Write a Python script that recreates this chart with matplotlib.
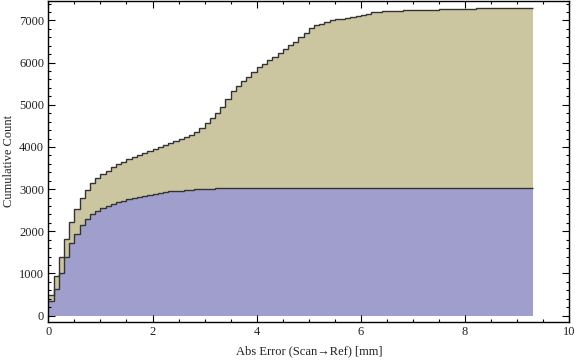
import numpy as np
import matplotlib
matplotlib.use('Agg')
import matplotlib.pyplot as plt
from matplotlib.ticker import MultipleLocator

# Histograma acumulado apilado, bins de 0.1 mm entre 0 y 9.3
bordes = np.round(np.arange(0, 9.31, 0.1), 2)

# Conteo acumulado de la serie azul (inferior)
azul = [340, 630, 1000, 1382, 1713, 1930, 2140, 2281, 2405, 2486,
        2542, 2597, 2644, 2684, 2720, 2755, 2786, 2817, 2840, 2864,
        2888, 2911, 2928, 2951, 2967, 2967, 2991, 2991, 3015, 3015,
        3015, 3015] + [3039] * 61

# Conteo acumulado total (serie beige apilada encima)
total = [500, 935, 1382, 1828, 2210, 2518, 2782, 2970, 3140, 3265,
         3354, 3432, 3520, 3585, 3640, 3705, 3760, 3811, 3862, 3902,
         3950, 4005, 4045, 4085, 4130, 4180, 4235, 4294, 4355, 4451,
         4569, 4680, 4805, 4956, 5146, 5319, 5453, 5572, 5667, 5776,
         5887, 5974, 6060, 6131, 6234, 6329, 6424, 6495, 6604, 6699,
         6810, 6881, 6921, 6968, 7000, 7023, 7040, 7050, 7078, 7110,
         7134, 7157, 7189, 7205, 7213, 7228, 7228, 7228] + [7252] * 7 + [7276] * 7 + [7307] * 11

plt.rcParams['font.family'] = ['Liberation Serif', 'DejaVu Serif']
plt.rcParams['font.size'] = 9

fig = plt.figure(figsize=(5.76, 3.62), dpi=100)
ax = fig.add_axes([48.3 / 576, 1 - 322 / 362, (569.3 - 48.3) / 576, 321.5 / 362])

color_beige = '#cbc6a0'
color_azul = '#a09ecc'
linea = '#333333'

ax.stairs(total, bordes, fill=True, color=color_beige, baseline=0, lw=0)
ax.stairs(azul, bordes, fill=True, color=color_azul, baseline=0, lw=0)
ax.stairs(total, bordes, baseline=None, color=linea, lw=1.0)
ax.stairs(azul, bordes, baseline=None, color=linea, lw=1.0)

ax.set_xlim(0, 10)
ax.set_ylim(-150, 7473)
ax.xaxis.set_major_locator(MultipleLocator(2))
ax.xaxis.set_minor_locator(MultipleLocator(0.5))
ax.yaxis.set_major_locator(MultipleLocator(1000))
ax.yaxis.set_minor_locator(MultipleLocator(200))
ax.tick_params(which='both', direction='in', top=True, right=True, width=0.8,
               labelcolor='#222222')
ax.tick_params(which='major', length=5, pad=3)
ax.tick_params(which='minor', length=2.5)
for s in ax.spines.values():
    s.set_linewidth(1.0)

ax.set_xlabel('Abs Error (Scan\u2192Ref) [mm]', labelpad=5, color='#222222')
ax.set_ylabel('Cumulative Count', labelpad=3, color='#222222')

fig.savefig('out.png', dpi=100)
